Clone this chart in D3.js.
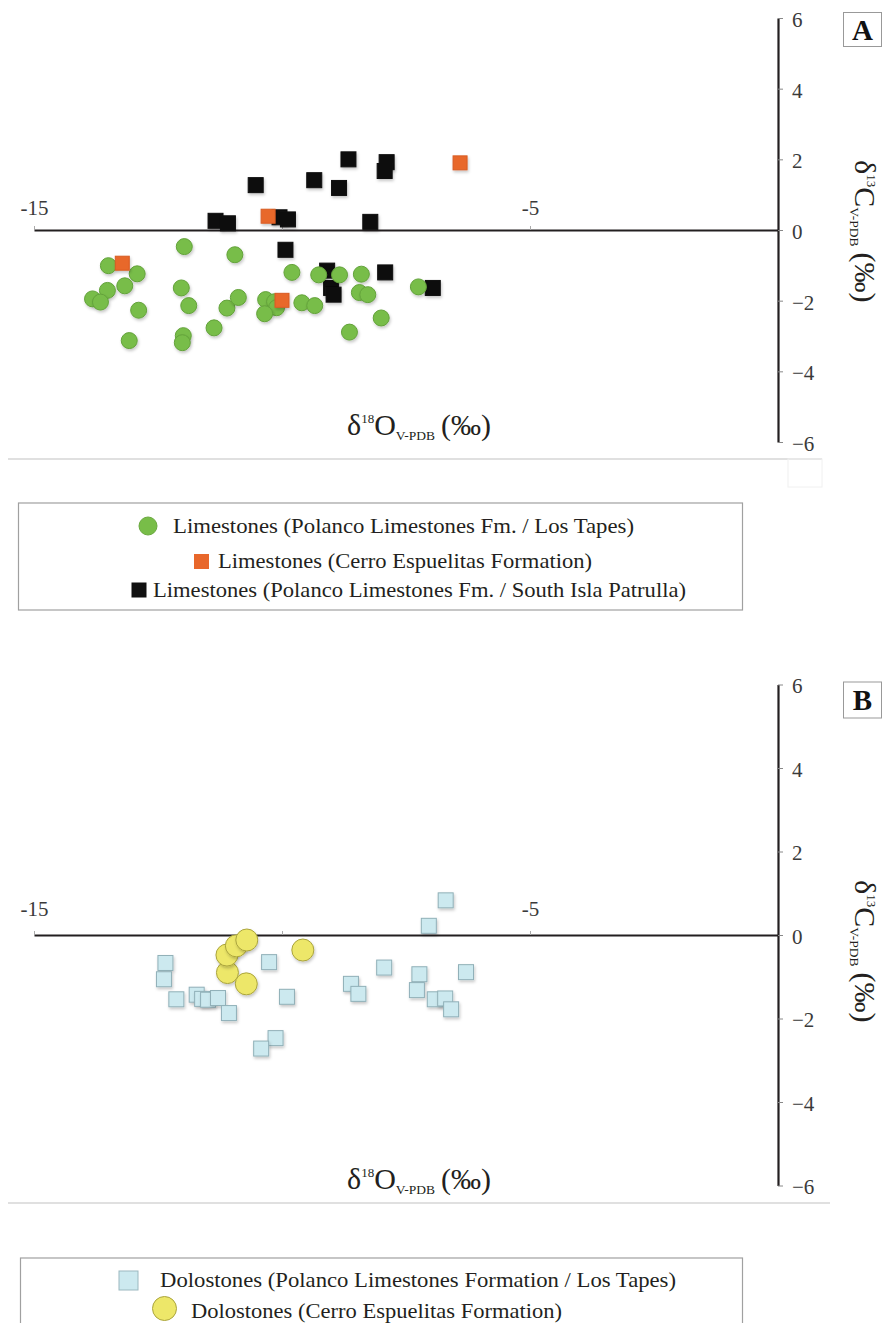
<!DOCTYPE html>
<html>
<head>
<meta charset="utf-8">
<script src="https://cdnjs.cloudflare.com/ajax/libs/d3/7.8.5/d3.min.js"></script>
<style>
body { margin: 0; background: #fff; }
svg { display: block; font-family: "Liberation Serif", "Times New Roman", serif; }
</style>
</head>
<body>
<div id="chart"></div>
<script>
// panel A - limestones, [d18O, d13C]
var limeLosTapes = [
	[-11.97,-0.47], [-10.95,-0.70], [-13.50,-1.01], [-12.92,-1.24], [-13.17,-1.58],
	[-13.52,-1.71], [-13.82,-1.95], [-13.66,-2.04], [-12.03,-1.64], [-11.88,-2.14],
	[-12.89,-2.27], [-13.08,-3.13], [-11.99,-2.99], [-12.01,-3.19], [-11.37,-2.77],
	[-11.11,-2.21], [-10.88,-1.91], [-10.33,-1.97], [-10.15,-2.03], [-10.11,-2.20],
	[-10.35,-2.37], [-9.80,-1.20], [-9.26,-1.27], [-8.84,-1.27], [-8.40,-1.25],
	[-9.60,-2.06], [-9.34,-2.14], [-8.44,-1.77], [-8.27,-1.83], [-8.00,-2.49],
	[-8.64,-2.89], [-7.25,-1.61]
];
var limeCerro = [[-13.22,-0.94], [-10.28,0.39], [-10.00,-1.99], [-6.41,1.90]];
var limeIslaPatrulla = [
	[-11.34,0.26], [-11.09,0.19], [-10.53,1.27], [-10.05,0.36], [-9.88,0.30],
	[-9.93,-0.56], [-9.35,1.41], [-8.85,1.19], [-8.66,2.00], [-7.89,1.92],
	[-7.93,1.67], [-8.22,0.23], [-9.09,-1.15], [-9.01,-1.64], [-8.96,-1.83],
	[-7.92,-1.20], [-6.96,-1.64]
];

// panel B - dolostones
var doloLosTapes = [
	[-12.35,-0.67], [-12.38,-1.06], [-12.13,-1.54], [-11.72,-1.43], [-11.61,-1.53],
	[-11.49,-1.55], [-11.29,-1.51], [-11.07,-1.87], [-10.26,-0.65], [-9.90,-1.48],
	[-10.13,-2.47], [-10.42,-2.72], [-8.61,-1.17], [-8.46,-1.41], [-7.94,-0.78],
	[-7.23,-0.94], [-7.28,-1.32], [-6.92,-1.54], [-7.04,0.22], [-6.70,0.83],
	[-6.29,-0.89], [-6.71,-1.52], [-6.59,-1.78]
];
var doloCerro = [[-11.10,-0.90], [-11.11,-0.48], [-10.92,-0.26], [-10.71,-0.12], [-10.72,-1.17], [-9.58,-0.36]];

var xDomain = [-15, 0];
var yDomain = [-6, 6];
var xTicks = [-15, -10, -5];
var xTickLabels = ["-15", "", "-5"];
var yTicks = [-6, -4, -2, 0, 2, 4, 6];

var legendA = [
	{ label: "Limestones (Polanco Limestones Fm. / Los Tapes)", shape: "circle", fill: "#78bd48", stroke: "#6aa93f" },
	{ label: "Limestones (Cerro Espuelitas Formation)", shape: "square", fill: "#e8672b", stroke: "#e8672b" },
	{ label: "Limestones (Polanco Limestones Fm. / South Isla Patrulla)", shape: "square", fill: "#111", stroke: "#111" }
];
var legendB = [
	{ label: "Dolostones (Polanco Limestones Formation / Los Tapes)", shape: "square", fill: "#cce9ef", stroke: "#9bb8bf" },
	{ label: "Dolostones (Cerro Espuelitas Formation)", shape: "circle", fill: "#ede769", stroke: "#aaa43c" }
];

var ink = "#231f20";

var svg = d3.select("#chart").append("svg")
	.attr("width", 883)
	.attr("height", 1323);

var defs = svg.append("defs");
defs.append("filter")
	.attr("id", "shadow")
	.attr("x", "-50%").attr("y", "-50%")
	.attr("width", "200%").attr("height", "200%")
  .append("feDropShadow")
	.attr("dx", 1)
	.attr("dy", 2)
	.attr("stdDeviation", 1.5)
	.attr("flood-color", "#000")
	.attr("flood-opacity", 0.22);

function drawCircles(g, data, x, y, r, fill, stroke) {
	g.append("g")
		.selectAll("circle")
		.data(data)
		.enter()
	  .append("circle")
		.attr("cx", function (d) { return x(d[0]); })
		.attr("cy", function (d) { return y(d[1]); })
		.attr("r", r)
		.attr("fill", fill)
		.attr("stroke", stroke)
		.attr("stroke-width", 1)
		.attr("filter", "url(#shadow)");
}

function drawSquares(g, data, x, y, s, fill, stroke) {
	g.append("g")
		.selectAll("rect")
		.data(data)
		.enter()
	  .append("rect")
		.attr("x", function (d) { return x(d[0]) - s / 2; })
		.attr("y", function (d) { return y(d[1]) - s / 2; })
		.attr("width", s)
		.attr("height", s)
		.attr("fill", fill)
		.attr("stroke", stroke)
		.attr("stroke-width", 1)
		.attr("filter", "url(#shadow)");
}

function axisLabel(g, tx, ty, rotate, sup, main, sub) {
	var t = g.append("text")
		.attr("transform", "translate(" + tx + "," + ty + ")" + (rotate ? " rotate(90)" : ""))
		.attr("fill", ink)
		.attr("font-size", 30);
	t.append("tspan").text("\u03b4");
	t.append("tspan").attr("font-size", 13).attr("dy", -12).text(sup);
	t.append("tspan").attr("dy", 12).text(main);
	t.append("tspan").attr("font-size", 13.5).attr("dy", 5).text(sub);
	t.append("tspan").attr("dy", -5).attr("dx", 6).text("(\u2030)");
}

function buildPanel(p) {
	var g = svg.append("g");

	var x = d3.scaleLinear().domain(xDomain).range([34, 778]);
	var y = d3.scaleLinear().domain(yDomain).range(p.yRange);

	// x axis along d13C = 0
	var xAxis = g.append("g")
		.attr("transform", "translate(0," + y(0) + ")")
		.call(d3.axisTop(x)
			.tickValues(xTicks)
			.tickSize(4)
			.tickSizeOuter(0)
			.tickFormat(function (d, i) { return xTickLabels[i]; }))
		.attr("font-family", null)
		.attr("font-size", 21);
	xAxis.select(".domain").attr("stroke", ink).attr("stroke-width", 2.2);
	xAxis.selectAll(".tick line").attr("stroke", "#aaa");
	xAxis.selectAll(".tick text")
		.attr("fill", "#3a3a3a")
		.attr("y", p.xLabelDy);

	// y axis at d18O = 0
	var yAxis = g.append("g")
		.attr("transform", "translate(" + x(0) + ",0)")
		.call(d3.axisRight(y)
			.tickValues(yTicks)
			.tickSize(5)
			.tickSizeOuter(0)
			.tickPadding(9))
		.attr("font-family", null)
		.attr("font-size", 21);
	yAxis.select(".domain").attr("stroke", ink).attr("stroke-width", 2.2);
	yAxis.selectAll(".tick line").attr("stroke", "#888");
	yAxis.selectAll(".tick text")
		.attr("fill", "#3a3a3a")
		.attr("dy", "0.4em");

	p.series(g, x, y);

	axisLabel(g, 347, p.xTitleY, false, "18", "O", "V-PDB");
	axisLabel(g, 855, p.yTitleY, true, "13", "C", "V-PDB");

	// panel letter
	g.append("rect")
		.attr("x", 843.5)
		.attr("y", p.boxY)
		.attr("width", 38)
		.attr("height", p.boxH)
		.attr("fill", "#fff")
		.attr("stroke", "#999")
		.attr("stroke-width", 1);
	g.append("text")
		.attr("x", 862.5)
		.attr("y", p.boxY + p.boxH / 2)
		.attr("dy", "0.36em")
		.attr("text-anchor", "middle")
		.attr("font-size", 29)
		.attr("font-weight", "bold")
		.attr("fill", "#111")
		.text(p.letter);

	// separator under the plot
	g.append("line")
		.attr("x1", 8)
		.attr("x2", p.sepX2)
		.attr("y1", p.sepY)
		.attr("y2", p.sepY)
		.attr("stroke", "#d6d6d6")
		.attr("stroke-width", 1.5);
}

function buildLegend(items, box, rows) {
	var g = svg.append("g");
	g.append("rect")
		.attr("x", box[0])
		.attr("y", box[1])
		.attr("width", box[2])
		.attr("height", box[3])
		.attr("fill", "#fff")
		.attr("stroke", "#a0a0a0")
		.attr("stroke-width", 1.2);

	var row = g.selectAll("g.item")
		.data(items)
		.enter()
	  .append("g")
		.attr("class", "item");

	row.each(function (d, i) {
		var r = rows[i];
		var sel = d3.select(this);
		if (d.shape == "circle") {
			sel.append("circle")
				.attr("cx", r.mx)
				.attr("cy", r.my)
				.attr("r", r.ms / 2)
				.attr("fill", d.fill)
				.attr("stroke", d.stroke);
		} else {
			sel.append("rect")
				.attr("x", r.mx - r.ms / 2)
				.attr("y", r.my - r.ms / 2)
				.attr("width", r.ms)
				.attr("height", r.ms)
				.attr("fill", d.fill)
				.attr("stroke", d.stroke);
		}
		sel.append("text")
			.attr("x", r.tx)
			.attr("y", r.ty)
			.attr("font-size", 22)
			.attr("fill", ink)
			.attr("textLength", r.tw)
			.attr("lengthAdjust", "spacingAndGlyphs")
			.text(d.label);
	});
}

buildPanel({
	letter: "A",
	yRange: [442, 18],
	xLabelDy: -15,
	xTitleY: 435,
	yTitleY: 160,
	boxY: 12.5,
	boxH: 34,
	sepY: 459,
	sepX2: 822,
	series: function (g, x, y) {
		drawSquares(g, limeIslaPatrulla, x, y, 15, "#111", "#111");
		drawCircles(g, limeLosTapes, x, y, 8, "#78bd48", "#63a23b");
		drawSquares(g, limeCerro, x, y, 14, "#e8672b", "#d85d24");
	}
});

buildPanel({
	letter: "B",
	yRange: [1185.5, 684.5],
	xLabelDy: -19,
	xTitleY: 1189,
	yTitleY: 880,
	boxY: 682,
	boxH: 36,
	sepY: 1203,
	sepX2: 830,
	series: function (g, x, y) {
		drawSquares(g, doloLosTapes, x, y, 15, "#cce9ef", "#90b0b8");
		drawCircles(g, doloCerro, x, y, 11, "#ede769", "#aaa43c");
	}
});

// faint box remnant at the right of separator A
svg.append("rect")
	.attr("x", 788)
	.attr("y", 459)
	.attr("width", 34)
	.attr("height", 28)
	.attr("fill", "none")
	.attr("stroke", "#f0f0f0");

buildLegend(legendA, [18.5, 503, 724, 107], [
	{ mx: 148, my: 526, ms: 18, tx: 173, ty: 533, tw: 461 },
	{ mx: 201.5, my: 561.5, ms: 14, tx: 218, ty: 568, tw: 374 },
	{ mx: 139, my: 590, ms: 14, tx: 153, ty: 597, tw: 533 }
]);

buildLegend(legendB, [20.5, 1258, 722, 80], [
	{ mx: 128.5, my: 1280.5, ms: 19, tx: 160, ty: 1287, tw: 516 },
	{ mx: 164.5, my: 1308.5, ms: 24, tx: 191, ty: 1318, tw: 371 }
]);
</script>
</body>
</html>
